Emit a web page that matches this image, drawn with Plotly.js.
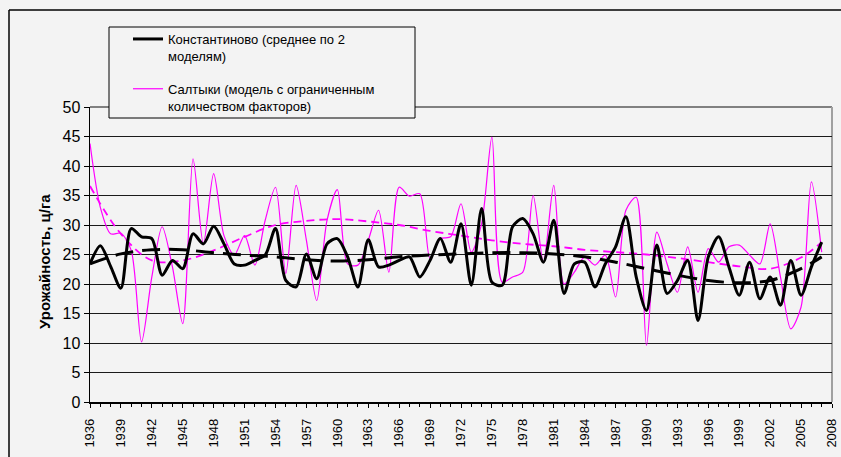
<!DOCTYPE html>
<html>
<head>
<meta charset="utf-8">
<script src="https://cdn.plot.ly/plotly-3.0.1.min.js"></script>
<style>html,body{margin:0;padding:0;background:#f3f3f3;}#chart{width:841px;height:457px;}</style>
</head>
<body>
<div id="chart"></div>
<script>
const years = [];
for (let y = 1936; y <= 2007; y++) years.push(y);

const konstantinovo = [
  23.4, 26.5, 23.0, 19.3, 29.4, 28.0, 27.7, 21.5, 24.0, 22.6,
  28.5, 26.8, 29.8, 26.8, 23.4, 23.2, 24.0, 24.9, 29.4, 20.6,
  19.5, 25.1, 20.9, 26.8, 27.7, 24.6, 19.5, 27.5, 22.9, 23.2,
  24.0, 24.6, 21.2, 24.0, 27.7, 23.7, 30.2, 19.8, 32.8, 20.3,
  19.8, 29.7, 31.1, 28.5, 23.7, 30.8, 18.4, 23.4, 23.7, 19.5,
  23.4, 26.3, 31.4, 21.2, 15.5, 26.6, 18.4, 20.6, 24.0, 13.8,
  24.6, 28.0, 22.9, 18.1, 23.7, 17.5, 21.2, 16.4, 24.0, 18.1,
  22.9, 27.1
];

const saltyki = [
  43.8, 33.0, 28.5, 28.6, 25.7, 10.2, 21.2, 29.7, 22.9, 13.3,
  41.2, 26.8, 38.7, 28.2, 24.9, 28.2, 23.2, 30.8, 36.4, 21.8,
  36.7, 27.4, 17.2, 30.8, 36.0, 23.4, 23.2, 27.4, 32.5, 22.0,
  36.4, 34.9, 35.3, 24.3, 27.7, 28.0, 33.6, 25.4, 30.2, 44.9,
  20.3, 21.2, 22.0, 35.0, 23.7, 36.7, 20.0, 22.0, 24.6, 23.2,
  24.9, 17.8, 32.5, 34.7, 9.6, 28.8, 23.4, 18.6, 26.3, 18.6,
  26.0, 23.7, 26.3, 26.6, 24.9, 23.4, 30.2, 21.2, 12.4, 16.1,
  37.3, 25.4
];

const trendYears = [1936, 1939, 1942, 1945, 1948, 1951, 1954, 1957, 1960, 1963, 1966, 1969, 1972, 1975, 1978, 1981, 1984, 1987, 1990, 1993, 1996, 1999, 2002, 2005, 2007];
const trendKonst  = [23.4, 25.1, 25.8, 25.8, 25.3, 24.9, 24.6, 24.1, 23.9, 24.1, 24.6, 24.9, 25.1, 25.3, 25.3, 25.1, 24.6, 23.7, 22.6, 21.5, 20.6, 20.2, 20.6, 22.6, 24.6];
const trendSalt   = [36.6, 28.5, 24.0, 24.0, 25.7, 28.0, 30.0, 30.7, 31.0, 30.6, 30.0, 29.0, 28.2, 27.4, 26.8, 26.4, 25.8, 25.4, 25.0, 24.4, 23.7, 23.0, 22.6, 24.5, 27.1];

const legendNames = [
  'Константиново (среднее по 2<br>моделям)',
  'Салтыки (модель с ограниченным<br>количеством факторов)'
];
const yTitle = 'Урожайность, ц/га';

const L = 90, R = 832, T = 107, B = 402;
const W = R - L, H = B - T;
const px = x => (x - L) / W;
const py = y => (B - y) / H;

const traces = [
  {x: trendYears, y: trendSalt, mode: 'lines', line: {color: '#ff00ff', width: 1.8, dash: '8px,5px', shape: 'spline', smoothing: 1}, showlegend: false, hoverinfo: 'skip'},
  {x: years, y: saltyki, mode: 'lines', name: legendNames[1], legendgroup: 'b', legendrank: 2, line: {color: '#ff00ff', width: 1.2, shape: 'spline', smoothing: 0.8}},
  {x: trendYears, y: trendKonst, mode: 'lines', line: {color: '#000000', width: 3, dash: '18px,9px', shape: 'spline', smoothing: 1}, showlegend: false, hoverinfo: 'skip'},
  {x: years, y: konstantinovo, mode: 'lines', name: legendNames[0], legendgroup: 'a', legendrank: 1, line: {color: '#000000', width: 3, shape: 'spline', smoothing: 0.8}}
];

const layout = {
  width: 841, height: 457,
  margin: {l: L, r: 841 - R, t: T, b: 457 - B, pad: 0},
  paper_bgcolor: '#f3f3f3',
  plot_bgcolor: '#f3f3f3',
  font: {family: 'Liberation Sans, Arial, sans-serif', color: '#000'},
  showlegend: true,
  legend: {
    x: px(128), y: py(24), xanchor: 'left', yanchor: 'top',
    bgcolor: 'rgba(0,0,0,0)', borderwidth: 0,
    font: {size: 13, family: 'Liberation Sans, Arial, sans-serif'},
    traceorder: 'grouped', tracegroupgap: 13, valign: 'top'
  },
  xaxis: {
    type: 'linear', range: [1936, 2008], tick0: 1936, dtick: 3,
    showgrid: false, zeroline: false,
    showline: true, linecolor: '#000', linewidth: 1.5,
    ticks: 'outside', ticklen: 4, tickcolor: '#000', tickwidth: 1,
    tickangle: -90, tickfont: {size: 13}, ticklabelstandoff: 6,
    minor: {dtick: 1, tick0: 1936, ticks: 'outside', ticklen: 3, tickcolor: '#000', showgrid: false}
  },
  yaxis: {
    range: [0, 50], dtick: 5,
    showgrid: true, gridcolor: '#1a1a1a', gridwidth: 1,
    zeroline: false, showline: true, linecolor: '#000', linewidth: 1.5,
    ticks: 'outside', ticklen: 5, tickcolor: '#000',
    tickfont: {size: 16}, ticklabelstandoff: 0
  },
  annotations: [
    {text: '<b>' + yTitle + '</b>', xref: 'paper', yref: 'paper', x: px(44), y: py(262), xanchor: 'center', yanchor: 'middle', textangle: -90, showarrow: false, font: {size: 15}}
  ],
  shapes: [
    {type: 'line', xref: 'paper', yref: 'paper', x0: 0, x1: 1, y0: 1, y1: 1, line: {color: '#808080', width: 2}, layer: 'below'},
    {type: 'line', xref: 'paper', yref: 'paper', x0: 1, x1: 1, y0: 0, y1: 1, line: {color: '#a0a0a0', width: 2}, layer: 'below'},
    {type: 'line', xref: 'paper', yref: 'paper', x0: px(9), x1: px(9), y0: py(460), y1: py(10), line: {color: '#000', width: 1.5}},
    {type: 'line', xref: 'paper', yref: 'paper', x0: px(9), x1: px(845), y0: py(10), y1: py(10), line: {color: '#000', width: 1.5}},
    {type: 'rect', xref: 'paper', yref: 'paper', x0: px(109), x1: px(415), y0: py(118), y1: py(27), fillcolor: '#f3f3f3', line: {color: '#000', width: 1}, layer: 'above'}
  ]
};

Plotly.newPlot('chart', traces, layout, {displayModeBar: false, staticPlot: true});
</script>
</body>
</html>
